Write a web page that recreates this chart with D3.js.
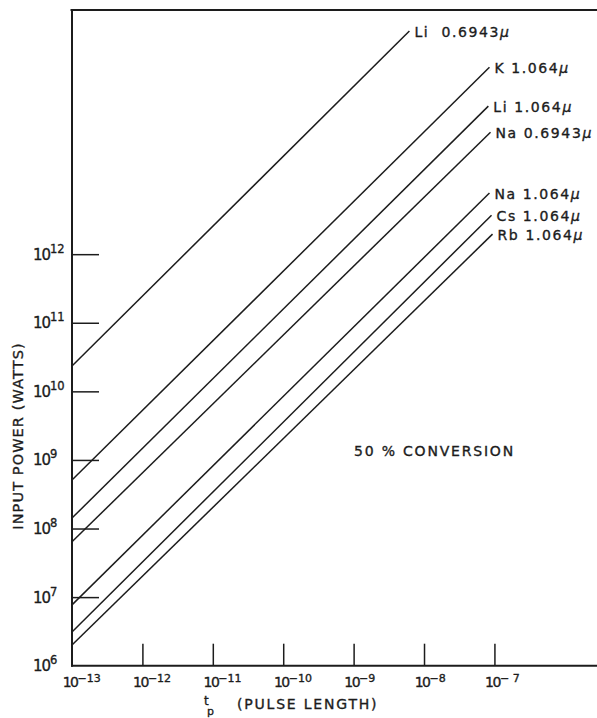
<!DOCTYPE html>
<html>
<head>
<meta charset="utf-8">
<script src="https://cdn.jsdelivr.net/npm/d3@7"></script>
<style>
  html, body { margin: 0; padding: 0; background: #fff; }
  svg { display: block; font-family: "DejaVu Sans", sans-serif; }
  text { fill: #1c1c1c; stroke: #1c1c1c; stroke-width: 0.35px; white-space: pre; }
</style>
</head>
<body>
<svg id="chart" width="597" height="718"></svg>
<script>
// ---- data ----
const seriesNames = ["Li  0.6943μ", "K 1.064μ", "Li 1.064μ", "Na 0.6943μ", "Na 1.064μ", "Cs 1.064μ", "Rb 1.064μ"];
const tStart = [1e-13, 1e-13, 1e-13, 1e-13, 1e-13, 1e-13, 1e-13];
const pStart = [2.34e10, 5.1e8, 1.42e8, 6.4e7, 7.7e6, 3.1e6, 2.0e6];
const tEnd   = [6.2e-9, 8.5e-8, 8.2e-8, 8.8e-8, 8.5e-8, 9.1e-8, 9.4e-8];
const pEnd   = [1.79e15, 5.3e14, 1.44e14, 6.0e13, 7.8e12, 3.7e12, 1.96e12];
const xTickValues = [1e-12, 1e-11, 1e-10, 1e-9, 1e-8, 1e-7];
const xLabelValues = [1e-13, 1e-12, 1e-11, 1e-10, 1e-9, 1e-8, 1e-7];
const xLabelExps = ["−13", "−12", "−11", "−10", "−9", "−8", "− 7"];
const yTickValues = [1e7, 1e8, 1e9, 1e10, 1e11, 1e12];
const yLabelValues = [1e6, 1e7, 1e8, 1e9, 1e10, 1e11, 1e12];
const yLabelExps = ["6", "7", "8", "9", "10", "11", "12"];
const annotation = "50 % CONVERSION";
const yTitle = "INPUT POWER (WATTS)";
const xTitle = "(PULSE LENGTH)";

// ---- layout ----
const svg = d3.select("#chart");
const pLeft = 72, pRight = 597, pTop = 10, pBottom = 665.7;
const x = d3.scaleLog().domain([1e-13, Math.pow(10, -5.543)]).range([pLeft, pRight]);
const y = d3.scaleLog().domain([1e6, Math.pow(10, 15.56)]).range([pBottom, pTop]);

// frame (top)
const frame = svg.append("g").attr("stroke", "#1c1c1c").attr("fill", "none");
frame.append("line").attr("x1", pLeft - 1.5).attr("x2", pRight).attr("y1", pTop).attr("y2", pTop).attr("stroke-width", 2);

// axes via d3 axis
const yAxis = d3.axisLeft(y).tickValues(yTickValues).tickSize(-27).tickFormat("");
svg.append("g").attr("transform", `translate(${pLeft},0)`).call(yAxis)
  .call(g => g.select(".domain").remove())
  .call(g => g.selectAll(".tick line").attr("stroke", "#1c1c1c").attr("stroke-width", 1.5));
const xAxis = d3.axisBottom(x).tickValues(xTickValues).tickSize(-22).tickFormat("");
svg.append("g").attr("transform", `translate(0,${pBottom})`).call(xAxis)
  .call(g => g.select(".domain").remove())
  .call(g => g.selectAll(".tick line").attr("stroke", "#1c1c1c").attr("stroke-width", 1.5));

frame.append("line").attr("x1", pLeft).attr("x2", pLeft).attr("y1", pTop).attr("y2", pBottom + 1).attr("stroke-width", 2);
frame.append("line").attr("x1", pLeft - 1).attr("x2", pRight).attr("y1", pBottom).attr("y2", pBottom).attr("stroke-width", 2);

// y tick labels
const yl = svg.append("g");
yLabelValues.forEach((v, i) => {
  const yy = y(v);
  yl.append("text").attr("x", 50).attr("y", yy + 5.5).attr("text-anchor", "end")
    .attr("font-size", 15).attr("letter-spacing", -1).text("10");
  yl.append("text").attr("x", 50).attr("y", yy - 1.5).attr("font-size", 11.5).text(yLabelExps[i]);
});

// x tick labels
const xl = svg.append("g");
xLabelValues.forEach((v, i) => {
  const xx = x(v);
  xl.append("text").attr("x", xx + 5.5).attr("y", 687).attr("text-anchor", "end")
    .attr("font-size", 14).attr("letter-spacing", -1.5).text("10");
  xl.append("text").attr("x", xx + 5.5).attr("y", 682).attr("font-size", 11).text(xLabelExps[i]);
});

// series lines
const lines = svg.append("g");
seriesNames.forEach((name, i) => {
  const x1 = x(tStart[i]), y1 = y(pStart[i]), x2 = x(tEnd[i]), y2 = y(pEnd[i]);
  lines.append("line").attr("x1", x1).attr("y1", y1).attr("x2", x2).attr("y2", y2)
    .attr("stroke", "#1c1c1c").attr("stroke-width", 1.5);
  const t = lines.append("text").attr("x", x2 + 5).attr("y", y2 + 6)
    .attr("font-size", 14).attr("letter-spacing", 1.6);
  t.text(name.slice(0, -1));
  t.append("tspan").attr("font-style", "italic").text(name.slice(-1));
});

// annotation
svg.append("text").attr("x", 354).attr("y", 456).attr("font-size", 14)
  .attr("letter-spacing", 1.8).text(annotation);

// axis titles
svg.append("text").attr("transform", "translate(23,436) rotate(-90)")
  .attr("text-anchor", "middle").attr("font-size", 14.5).attr("letter-spacing", 1.1).text(yTitle);
svg.append("text").attr("x", 204).attr("y", 705).attr("font-size", 12).text("t");
svg.append("text").attr("x", 207).attr("y", 715).attr("font-size", 11).text("p");
svg.append("text").attr("x", 237).attr("y", 709).attr("font-size", 14)
  .attr("letter-spacing", 1.8).text(xTitle);
</script>
</body>
</html>
